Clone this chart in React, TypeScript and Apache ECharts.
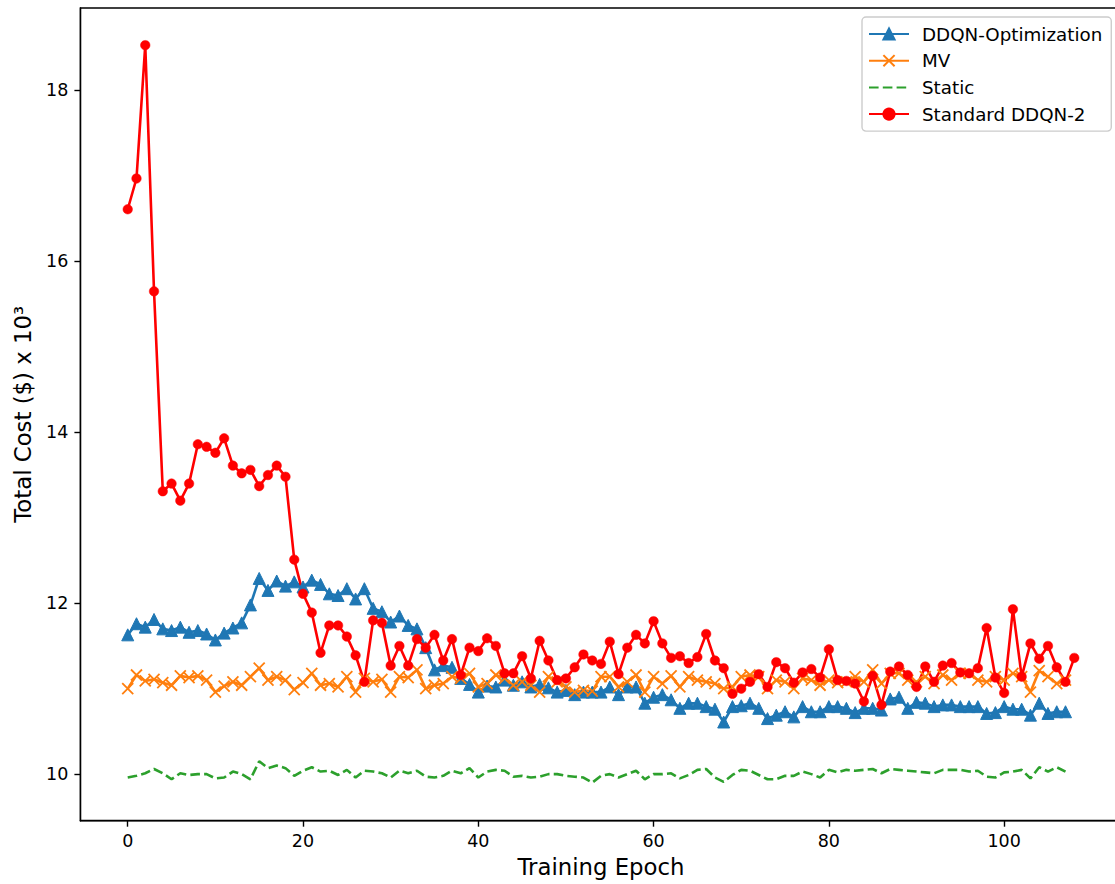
import React, { useEffect, useRef } from "react";
import * as echarts from "echarts";

// Total cost per training epoch (x 10^3 $), one value per epoch starting at 0
const ddqnOptimization = [
  11.63, 11.76, 11.72, 11.81, 11.70, 11.68, 11.72, 11.66, 11.68, 11.64,
  11.57, 11.65, 11.71, 11.77, 11.98, 12.29, 12.15, 12.26, 12.20, 12.25,
  12.19, 12.27, 12.22, 12.11, 12.09, 12.17, 12.05, 12.17, 11.94, 11.90,
  11.78, 11.85, 11.74, 11.70, 11.48, 11.22, 11.27, 11.25, 11.12, 11.05,
  10.96, 11.03, 11.02, 11.10, 11.04, 11.08, 11.02, 11.05, 11.01, 10.96,
  10.98, 10.93, 10.96, 10.96, 10.96, 11.02, 10.93, 11.02, 11.02, 10.83,
  10.90, 10.93, 10.87, 10.77, 10.83, 10.83, 10.79, 10.76, 10.61, 10.79,
  10.80, 10.83, 10.77, 10.65, 10.69, 10.73, 10.67, 10.79, 10.73, 10.73,
  10.79, 10.79, 10.77, 10.72, 10.77, 10.77, 10.75, 10.88, 10.90, 10.77,
  10.84, 10.83, 10.79, 10.81, 10.81, 10.79, 10.79, 10.79, 10.71, 10.72,
  10.79, 10.76, 10.76, 10.69, 10.83, 10.71, 10.73, 10.73,
];

const mv = [
  11.00, 11.16, 11.09, 11.11, 11.07, 11.04, 11.15, 11.13, 11.15, 11.10,
  10.96, 11.03, 11.08, 11.04, 11.14, 11.24, 11.10, 11.14, 11.10, 10.99,
  11.07, 11.18, 11.04, 11.06, 11.02, 11.14, 10.96, 11.12, 11.08, 11.11,
  10.96, 11.14, 11.13, 11.22, 11.00, 11.04, 11.06, 11.14, 11.12, 11.18,
  11.02, 11.06, 11.16, 11.12, 11.04, 11.08, 11.04, 10.96, 11.14, 11.08,
  11.02, 10.96, 10.98, 10.97, 11.14, 11.14, 11.02, 11.08, 11.16, 10.96,
  11.14, 11.06, 11.15, 11.02, 11.14, 11.10, 11.08, 11.06, 11.00, 11.02,
  11.14, 11.16, 11.14, 11.00, 11.10, 11.08, 11.00, 11.12, 11.10, 11.04,
  11.10, 11.07, 11.08, 11.14, 11.08, 11.22, 11.06, 11.18, 11.18, 11.10,
  11.08, 11.14, 11.06, 11.16, 11.10, 11.18, 11.18, 11.10, 11.08, 11.14,
  11.10, 11.18, 11.14, 10.96, 11.21, 11.14, 11.06, 11.10,
];

const staticCost = [
  9.96, 9.98, 10.01, 10.06, 10.01, 9.94, 10.01, 9.99, 10.00, 10.00,
  9.95, 9.96, 10.03, 10.00, 9.94, 10.15, 10.07, 10.10, 10.07, 9.98,
  10.04, 10.08, 10.03, 10.04, 9.99, 10.05, 9.96, 10.04, 10.03, 10.01,
  9.96, 10.04, 10.01, 10.04, 9.97, 9.96, 9.98, 10.04, 10.01, 10.07,
  9.96, 10.03, 10.05, 10.04, 9.97, 9.98, 9.96, 9.97, 10.00, 10.00,
  9.98, 9.97, 9.96, 9.90, 9.98, 10.00, 9.96, 10.00, 10.04, 9.94,
  10.00, 10.00, 10.01, 9.95, 9.99, 10.05, 10.06, 9.96, 9.91, 9.99,
  10.05, 10.04, 9.99, 9.94, 9.94, 9.98, 9.98, 10.03, 10.00, 9.96,
  10.05, 10.02, 10.05, 10.04, 10.05, 10.06, 10.01, 10.06, 10.05, 10.04,
  10.03, 10.02, 10.01, 10.05, 10.05, 10.05, 10.03, 10.04, 9.97, 9.96,
  10.02, 10.03, 10.05, 9.95, 10.08, 10.03, 10.08, 10.03,
];

const standardDdqn2 = [
  16.61, 16.97, 18.53, 15.65, 13.31, 13.40, 13.20, 13.40, 13.86, 13.83,
  13.76, 13.93, 13.61, 13.52, 13.56, 13.37, 13.50, 13.61, 13.48, 12.51,
  12.11, 11.89, 11.42, 11.74, 11.74, 11.61, 11.39, 11.08, 11.80, 11.77,
  11.27, 11.50, 11.27, 11.58, 11.48, 11.63, 11.33, 11.58, 11.16, 11.48,
  11.44, 11.59, 11.50, 11.18, 11.18, 11.38, 11.12, 11.56, 11.33, 11.10,
  11.12, 11.25, 11.40, 11.33, 11.29, 11.55, 11.17, 11.48, 11.63, 11.53,
  11.79, 11.53, 11.36, 11.38, 11.30, 11.37, 11.64, 11.33, 11.24, 10.94,
  11.00, 11.08, 11.17, 11.02, 11.31, 11.24, 11.07, 11.19, 11.23, 11.13,
  11.46, 11.10, 11.09, 11.06, 10.85, 11.15, 10.81, 11.20, 11.26, 11.16,
  11.02, 11.26, 11.08, 11.27, 11.30, 11.19, 11.18, 11.24, 11.71, 11.13,
  10.95, 11.93, 11.14, 11.53, 11.35, 11.50, 11.25, 11.08, 11.36,
];

const xTicks = [0, 20, 40, 60, 80, 100];
const yTicks = [10, 12, 14, 16, 18];

const FONT = "DejaVu Sans";

const toPoints = (values: number[]) => values.map((v, i) => [i, v]);

export default function App() {
  const ref = useRef<HTMLDivElement>(null);

  useEffect(() => {
    if (!ref.current) return;
    const chart = echarts.init(ref.current, null, { renderer: "svg" });

    const axisLineStyle = { color: "#000", width: 1.4 };

    chart.setOption({
      animation: false,
      textStyle: { fontFamily: FONT },
      grid: {
        left: 80.4,
        right: 8.4,
        top: 8,
        bottom: 63.3,
        show: true,
        borderColor: "#000",
        borderWidth: 1.4,
        backgroundColor: "transparent",
      },
      legend: {
        orient: "vertical",
        left: 862,
        top: 17,
        padding: [7, 9, 7, 6],
        itemWidth: 40,
        itemHeight: 14,
        itemGap: 6.7,
        backgroundColor: "rgba(255,255,255,0.8)",
        borderColor: "#cccccc",
        borderWidth: 1.4,
        borderRadius: 4,
        textStyle: {
          fontFamily: FONT,
          fontSize: 18.3,
          lineHeight: 20,
          color: "#000",
          padding: [0, 0, 0, 8],
        },
        data: [
          { name: "DDQN-Optimization" },
          { name: "MV" },
          { name: "Static", itemStyle: { color: "transparent", borderWidth: 0 } },
          { name: "Standard DDQN-2" },
        ],
      },
      xAxis: {
        type: "value",
        min: -5.4,
        max: 113.4,
        name: "Training Epoch",
        nameLocation: "middle",
        nameGap: 35,
        nameTextStyle: { fontFamily: FONT, fontSize: 22.8, color: "#000" },
        axisLine: { show: true, onZero: false, lineStyle: axisLineStyle },
        axisTick: {
          show: true,
          customValues: xTicks,
          length: 6,
          lineStyle: axisLineStyle,
        },
        axisLabel: {
          customValues: xTicks,
          fontFamily: FONT,
          fontSize: 17.5,
          color: "#000",
          margin: 11,
        },
        splitLine: { show: false },
      },
      yAxis: {
        type: "value",
        min: 9.455,
        max: 18.965,
        name: "Total Cost ($) x 10³",
        nameLocation: "middle",
        nameGap: 46,
        nameTextStyle: { fontFamily: FONT, fontSize: 22.8, color: "#000" },
        axisLine: { show: true, onZero: false, lineStyle: axisLineStyle },
        axisTick: {
          show: true,
          customValues: yTicks,
          length: 6,
          lineStyle: axisLineStyle,
        },
        axisLabel: {
          customValues: yTicks,
          fontFamily: FONT,
          fontSize: 17.5,
          color: "#000",
          margin: 12,
        },
        splitLine: { show: false },
      },
      series: [
        {
          name: "DDQN-Optimization",
          type: "line",
          data: toPoints(ddqnOptimization),
          symbol: "triangle",
          symbolSize: 12,
          showAllSymbol: true,
          lineStyle: { color: "#1f77b4", width: 2.6 },
          itemStyle: { color: "#1f77b4", borderColor: "#1f77b4", borderWidth: 1 },
          emphasis: { disabled: true },
        },
        {
          name: "MV",
          type: "line",
          data: toPoints(mv),
          symbol: "path://M0,0L10,10M10,0L0,10",
          symbolSize: 11,
          showAllSymbol: true,
          lineStyle: { color: "#ff7f0e", width: 2.6 },
          itemStyle: { color: "#ff7f0e", borderColor: "#ff7f0e", borderWidth: 1.8 },
          emphasis: { disabled: true },
        },
        {
          name: "Static",
          type: "line",
          data: toPoints(staticCost),
          symbol: "none",
          lineStyle: { color: "#2ca02c", width: 2.6, type: [9.6, 4.2] },
          itemStyle: { color: "#2ca02c" },
          emphasis: { disabled: true },
        },
        {
          name: "Standard DDQN-2",
          type: "line",
          data: toPoints(standardDdqn2),
          symbol: "circle",
          symbolSize: 9.5,
          showAllSymbol: true,
          lineStyle: { color: "#ff0000", width: 2.6 },
          itemStyle: { color: "#ff0000", borderColor: "#ff0000", borderWidth: 0.5 },
          emphasis: { disabled: true },
        },
      ],
    });

    return () => chart.dispose();
  }, []);

  return (
    <div
      style={{
        position: "fixed",
        left: 0,
        top: 0,
        width: 1115,
        height: 884,
        overflow: "hidden",
        background: "#fff",
      }}
    >
      <div ref={ref} style={{ width: 1130, height: 884 }} />
    </div>
  );
}
